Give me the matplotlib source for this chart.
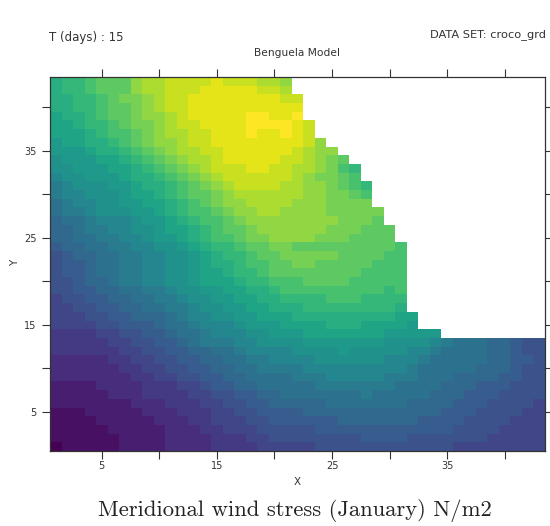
import numpy as np
import matplotlib
matplotlib.use("Agg")
import matplotlib.pyplot as plt

# colour level of each cell (0-24), rows listed from top (Y=43) to bottom (Y=1)
# rows stop where the land mask starts
stress_levels = [
    [15,16,16,17,18,18,18,20,21,21,22,22,22,22,23,22,22,22,21,21,20],
    [15,16,16,17,18,18,18,20,21,21,22,22,22,23,23,23,23,23,22,22,21],
    [15,15,16,16,17,18,19,19,20,21,22,22,23,23,23,23,23,23,23,23,22,22],
    [15,15,16,16,17,18,18,19,20,21,22,22,23,23,23,23,23,23,23,23,23,23],
    [14,15,15,16,17,18,18,19,20,20,21,22,23,23,23,23,23,24,24,23,23,24],
    [14,14,15,16,16,17,18,19,19,20,21,22,22,23,23,23,23,24,24,24,24,23,22],
    [14,14,14,15,16,17,17,18,19,20,21,21,22,22,23,23,23,24,23,23,24,23,22],
    [13,14,14,15,15,16,17,18,19,20,20,21,22,22,23,23,23,23,23,23,23,23,22,20],
    [13,13,13,14,15,15,16,17,18,19,20,21,21,22,22,23,23,23,23,23,23,22,21,20,20],
    [12,13,13,13,14,14,15,16,17,18,19,20,21,21,22,23,23,23,23,23,22,22,21,20,19,18],
    [12,12,13,13,13,14,14,15,16,17,18,19,20,21,22,22,22,23,23,22,22,21,21,20,19,17,16],
    [11,12,12,13,13,13,14,15,15,16,17,18,19,20,21,22,22,22,22,22,22,21,20,19,19,18,17],
    [10,11,12,12,12,13,13,14,15,15,16,17,18,19,20,21,22,22,22,22,21,21,20,20,19,18,17,16],
    [10,11,11,12,12,12,13,14,14,15,16,17,18,18,19,20,21,21,21,21,21,21,20,20,19,19,18,17],
    [9,10,11,11,12,12,13,13,14,14,15,16,17,18,19,20,20,21,21,21,21,20,20,20,19,19,19,19],
    [9,10,10,11,12,12,12,13,13,14,15,16,17,17,18,19,20,20,21,21,20,20,20,20,19,19,19,19,19],
    [8,9,9,10,11,11,11,12,13,13,14,15,16,17,17,18,19,20,20,20,20,20,20,20,20,19,19,19,18],
    [8,8,9,10,10,11,11,12,12,13,14,14,15,16,17,18,18,19,20,20,20,20,20,20,19,19,19,18,18,18],
    [8,8,9,9,10,10,11,11,12,13,13,14,15,16,17,17,18,19,19,20,20,20,20,19,19,19,18,18,18,18],
    [7,8,8,9,9,10,10,11,11,12,12,13,14,15,16,16,17,18,18,19,19,18,18,18,18,18,18,18,18,18,17],
    [6,7,8,8,9,9,10,10,11,11,12,12,13,14,15,16,16,17,18,18,19,19,19,19,19,18,18,18,18,17,17],
    [6,7,7,8,9,9,10,10,11,11,12,12,13,14,15,15,16,17,17,18,18,19,19,18,18,18,18,18,17,17,17],
    [6,7,7,8,9,9,10,10,11,11,12,12,13,14,14,15,16,16,17,18,18,18,18,18,18,18,18,17,17,17,17],
    [6,6,7,8,8,9,10,10,11,11,12,12,13,14,14,14,15,16,16,17,17,17,18,18,18,18,17,17,17,17,17],
    [6,6,7,7,8,8,9,9,10,10,11,12,12,13,13,14,14,15,15,16,17,17,17,17,17,17,17,17,17,16,17],
    [5,6,6,7,7,8,8,9,9,10,10,11,12,12,13,13,14,14,15,15,16,16,16,16,17,17,17,16,16,16,16],
    [5,5,6,6,7,7,8,8,9,9,10,10,11,12,12,13,13,14,14,15,15,15,16,16,16,16,16,16,16,16,15],
    [5,5,5,6,6,7,7,8,8,8,9,10,11,11,12,12,13,13,14,14,14,15,15,15,15,15,15,15,15,15,14,14],
    [5,5,5,5,6,6,7,7,7,8,9,9,10,11,11,11,12,13,13,13,14,14,14,14,15,15,15,14,14,14,14,13],
    [4,4,4,4,5,5,6,6,7,7,8,9,9,10,11,11,11,12,12,13,13,13,14,14,14,14,14,14,14,13,13,13,13,13],
    [4,4,4,4,4,5,5,6,6,7,7,8,9,10,10,10,11,11,12,12,12,12,13,13,13,13,13,13,13,12,12,12,12,11,10,9,9,9,8,8,7,6,6],
    [4,4,4,4,4,4,5,5,6,6,7,7,8,8,9,9,10,11,11,11,11,12,12,12,12,13,12,12,12,12,12,11,11,10,9,9,9,9,8,8,7,6,6],
    [3,3,3,3,3,4,4,5,5,6,6,7,7,8,8,9,9,10,10,11,11,11,11,12,12,12,12,12,12,11,11,11,10,9,9,9,9,9,8,8,7,7,6],
    [3,3,3,3,3,3,4,4,5,5,6,6,7,7,8,8,9,9,10,10,10,10,11,11,11,11,11,11,11,11,11,10,9,9,9,9,9,8,8,8,7,6,6],
    [3,3,3,3,3,3,3,4,4,5,5,6,6,7,7,8,8,9,9,9,9,10,10,10,11,11,11,11,11,10,10,10,9,9,9,8,8,8,8,7,7,6,6],
    [2,2,2,2,3,3,3,3,4,4,4,5,5,6,7,7,8,8,9,9,9,9,9,10,10,10,10,10,10,10,9,9,9,9,8,8,8,7,7,7,6,6,6],
    [2,2,2,2,2,3,3,3,4,4,4,4,5,5,6,6,7,7,8,8,9,9,9,9,9,9,9,10,9,9,9,9,9,8,8,8,7,7,7,6,6,6,6],
    [2,2,2,2,2,2,2,3,3,3,4,4,4,5,5,6,6,7,7,8,8,8,8,8,9,9,9,9,9,9,9,8,8,8,8,7,7,7,6,6,6,6,5],
    [1,1,1,2,2,2,2,2,3,3,3,4,4,4,5,5,6,6,7,7,7,7,8,8,8,8,8,8,8,8,8,8,8,8,7,7,7,6,6,6,6,5,5],
    [1,1,1,1,2,2,2,2,2,3,3,3,4,4,5,5,5,6,6,7,7,7,7,7,7,8,8,8,8,8,8,8,7,7,7,7,6,6,6,6,5,5,5],
    [1,1,1,1,1,2,2,2,2,2,3,3,3,4,4,5,5,5,6,6,6,6,6,7,7,7,7,7,7,7,7,7,7,7,7,6,6,6,6,5,5,5,5],
    [1,1,1,1,1,1,2,2,2,2,3,3,3,3,4,4,4,5,5,6,6,6,6,6,6,6,6,7,7,7,7,6,6,6,6,6,6,6,5,5,5,5,5],
    [0,1,1,1,1,1,2,2,2,2,3,3,3,3,4,4,4,4,5,5,5,5,5,6,6,6,6,6,6,6,6,6,6,6,6,5,5,5,5,5,5,5,5],
]
n_levels = 25
tick_values = [5, 10, 15, 20, 25, 30, 35, 40]
tick_labels = ["5", "", "15", "", "25", "", "35", ""]

grid = np.full((43, 43), np.nan)
for i, row in enumerate(stress_levels):
    grid[42 - i, :len(row)] = row

W, H = 550, 526
fig = plt.figure(figsize=(W / 100, H / 100), dpi=100)
ax = fig.add_axes([50 / W, 1 - 451 / H, 495 / W, 374 / H])

edges = np.arange(0.5, 44)
cmap = plt.get_cmap("viridis", n_levels)
ax.pcolormesh(edges, edges, grid, cmap=cmap, vmin=-0.5, vmax=n_levels - 0.5, linewidth=0)

ax.set_xlim(0.5, 43.5)
ax.set_ylim(0.5, 43.5)
ax.set_xticks(tick_values)
ax.set_yticks(tick_values)
ax.set_xticklabels(tick_labels)
ax.set_yticklabels(tick_labels)
ax.tick_params(axis="both", direction="out", length=6, width=0.8, color="#333333",
               labelsize=7, labelcolor="#333333", top=True, right=True)
ax.tick_params(axis="x", pad=1.5)
ax.tick_params(axis="y", pad=3.5)
for sp in ax.spines.values():
    sp.set_linewidth(0.9)
    sp.set_color("#333333")


def label(px, py, s, **kw):
    kw.setdefault("fontsize", 8)
    kw.setdefault("color", "#333333")
    fig.text(px / W, 1 - py / H, s, va="center", **kw)


label(49, 37, "T (days) : 15", ha="left", fontsize=8.5)
label(546, 35, "DATA SET: croco_grd", ha="right", fontsize=8.2)
label(297, 53, "Benguela Model", ha="center", fontsize=7.7)
label(297, 482, "X", ha="center", fontsize=7.5)
label(15, 263, "Y", ha="center", rotation=90, fontsize=7.5)
label(295, 510, "Meridional wind stress (January) N/m2", ha="center",
      fontsize=16.3, family="cmr10", color="#222222")

fig.savefig("out.png", dpi=100)
